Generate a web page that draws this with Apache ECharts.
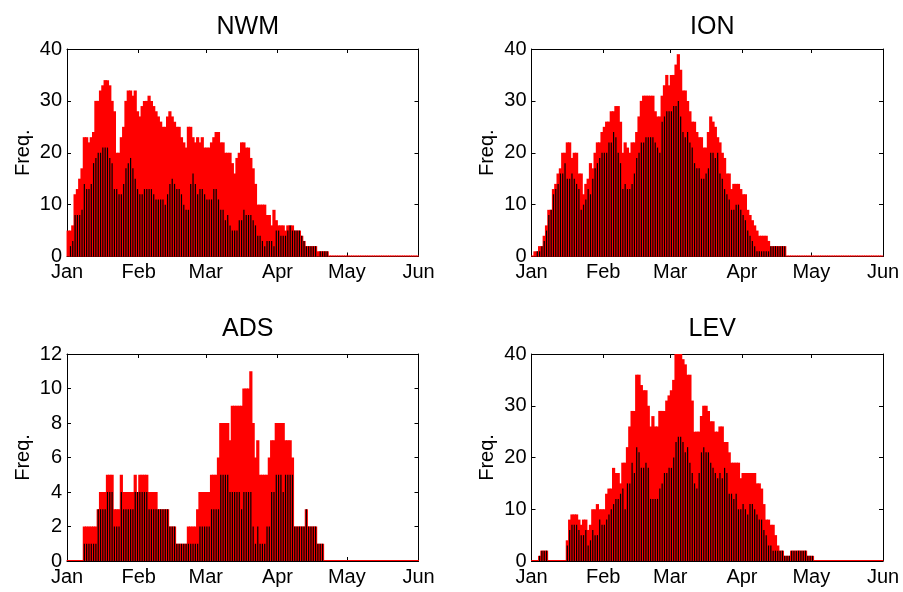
<!DOCTYPE html>
<html><head><meta charset="utf-8">
<script src="https://cdn.jsdelivr.net/npm/echarts@6/dist/echarts.min.js"></script>
<style>html,body{margin:0;padding:0;background:#fff}#c{width:903px;height:592px}</style>
</head><body><div id="c"></div>
<script>
// Day-of-year axis (Jan 1 .. Jun 1), month ticks
const monthTicks = [0, 31, 60, 91, 121, 152];
const monthLabels = ['Jan', 'Feb', 'Mar', 'Apr', 'May', 'Jun'];
const panelTitles = ['NWM', 'ION', 'ADS', 'LEV'];
const yMax = [40, 40, 12, 40];
const yStep = [10, 10, 2, 10];

function z(n) { return new Array(n).fill(0); }
function rep(v, n) { return new Array(n).fill(v); }

// NWM
const nwmRed = [5,5,6,12,13,15,17,23,23,22,
  23,24,30,30,32,33,34,34,33,30,
  28,20,20,23,25,30,32,32,31,32,
  28,27,29,30,30,31,30,29,28,27,
  26,25,25,27,28,27,26,25,25,23,
  22,21,25,25,23,22,23,22,23,21,
  21,21,22,23,24,24,22,22,20,20,
  20,18,16,19,20,22,22,21,21,19,
  17,14,10,10,10,10,8,8,6,9,
  7,6,6,6,5,6,6,6,5,5,
  5,4,3,2,2,2,2,2,1,1,
  1,1,1].concat(z(39));
const nwmBlack = [0,2,3,8,8,8,9,14,13,13,
  14,18,19,20,20,21,21,21,19,18,
  13,13,12,12,14,17,18,19,17,15,
  13,12,12,13,13,13,13,12,11,11,
  11,11,10,12,14,15,14,13,13,12,
  10,9,9,14,16,14,12,13,13,12,
  11,11,11,13,13,11,9,9,7,8,
  6,5,5,5,7,7,9,8,8,8,
  7,6,4,4,3,2,3,3,3,2,
  5,5,4,4,4,5,6,5,5,5,
  5,4,3,2,2,2,2,2,0,1,
  1,1,1].concat(z(39));

// ION
const ionRed = [0,1,1,2,2,4,6,9,9,13,
  14,16,17,20,20,22,22,19,20,20,
  16,16,12,14,15,18,17,20,22,22,
  24,25,26,26,28,28,29,29,26,20,
  22,21,20,22,22,24,27,30,31,31,
  31,31,31,28,27,27,31,33,35,33,
  35,35,37,39,36,32,32,30,28,26,
  26,24,23,23,21,21,24,27,26,25,
  23,22,20,19,16,16,13,14,14,14,
  13,12,12,9,8,7,6,5,4,4,
  4,4,3,2,2,2,2,2,2,2].concat(z(42));
const ionBlack = [0,0,1,1,2,3,5,8,9,12,
  13,14,16,16,18,15,15,16,15,14,
  13,9,10,11,13,12,15,17,18,19,
  20,20,20,22,22,24,23,20,18,13,
  14,13,13,14,16,19,20,22,22,23,
  23,23,23,22,21,20,26,27,28,28,
  28,29,29,30,27,24,23,24,22,21,
  18,17,17,15,15,16,17,20,20,19,
  20,16,15,13,12,11,9,9,10,10,
  9,8,7,5,4,3,2,1,1,1,
  1,1,1,2,2,2,2,2,2,2].concat(z(42));

// ADS
const adsRed = [].concat(z(7), rep(2,6), [3], rep(4,3), rep(5,3), rep(3,3), [5], rep(4,5), [5,4],
  rep(5,4), rep(4,4), rep(3,5), rep(2,3), rep(1,5), rep(2,4), [3], rep(4,5), rep(5,3), [6],
  rep(8,4), [7], [9,9,9,9,9], [10,10,10], [11], [8,6,7], rep(5,4), [6], [7,7], rep(8,4), rep(7,3), [6],
  rep(2,5), [3], rep(2,4), rep(1,3), z(41));
const adsBlack = [].concat(z(7), rep(1,6), rep(3,4), rep(4,3), rep(2,3), [4], rep(3,5), rep(4,6),
  rep(3,9), rep(2,3), rep(1,10), rep(2,5), rep(3,4), rep(5,4), rep(4,5), [3], rep(4,4), [2,1,2],
  rep(1,3), [2,2], [4,4], [5,5,5], [4], rep(5,4), rep(2,5), [3], rep(2,4), rep(1,3), z(41));

// LEV
const levRed = [0,0,0,1,2,2,2,0,0,0,
  0,0,0,0,0,4,8,9,9,9,
  8,7,8,8,6,7,10,10,11,10,
  10,10,13,14,14,18,17,17,15,19,
  19,22,26,29,29,36,36,34,33,33,
  30,26,28,26,26,29,29,29,31,32,
  33,35,40,40,40,39,38,36,36,31,
  25,25,25,28,30,30,29,27,27,25,
  25,26,26,23,23,21,19,19,19,19,
  16,17,17,17,17,17,17,15,15,14,
  11,8,8,7,7,5,3,2,2,1,
  1,1,2,2,2,2,2,2,2,1,
  1,1].concat(z(30));
const levBlack = [0,0,0,1,2,2,2,0,0,0,
  0,0,0,0,0,3,6,7,7,7,
  6,5,5,6,3,4,6,5,5,8,
  7,7,8,9,10,11,12,12,13,14,
  10,15,15,19,17,22,21,18,18,19,
  18,12,12,12,12,14,15,17,17,18,
  18,20,23,24,24,23,21,22,19,17,
  15,14,17,21,22,21,21,19,18,17,
  16,17,16,18,17,13,13,12,13,10,
  10,11,10,9,11,11,10,9,8,8,
  6,5,3,3,2,2,2,2,2,1,
  1,1,2,2,2,2,2,2,2,1,
  1,1].concat(z(30));

const redData = [nwmRed, ionRed, adsRed, levRed];
const blackData = [nwmBlack, ionBlack, adsBlack, levBlack];

const FONT = "'Liberation Sans', Arial, Helvetica, sans-serif";
const grids = [
  {left: 67, top: 49, width: 351.5, height: 207.5},
  {left: 531.5, top: 49, width: 351.5, height: 207.5},
  {left: 67, top: 354, width: 351.5, height: 207},
  {left: 531.5, top: 354, width: 351.5, height: 207}
];
const titleTops = [10, 10, 312, 312];

const toXY = arr => arr.map((v, i) => [i + 0.5, v]);
const axisLine = {show: true, onZero: false, lineStyle: {color: '#000', width: 1}};
const tickStyle = {show: true, inside: true, length: 4, lineStyle: {color: '#000', width: 1}};

const xAxis = [], yAxis = [], series = [], title = [];
grids.forEach((g, k) => {
  title.push({
    text: panelTitles[k], left: g.left + g.width / 2, top: titleTops[k], textAlign: 'center',
    textStyle: {fontFamily: FONT, fontSize: 25, fontWeight: 'normal', color: '#000'}
  });
  const xBase = {
    type: 'value', gridIndex: k, min: 0, max: 152, splitLine: {show: false},
    axisLine: axisLine,
    axisTick: Object.assign({}, tickStyle, {customValues: monthTicks})
  };
  xAxis.push(Object.assign({}, xBase, {
    position: 'bottom',
    axisLabel: {customValues: monthTicks, formatter: v => monthLabels[monthTicks.indexOf(v)] || '',
      fontFamily: FONT, fontSize: 20, color: '#000', margin: 6}
  }));
  xAxis.push(Object.assign({}, xBase, {position: 'top', axisLabel: {show: false}}));
  const yBase = {
    type: 'value', gridIndex: k, min: 0, max: yMax[k], interval: yStep[k],
    splitLine: {show: false}, axisLine: axisLine, axisTick: tickStyle
  };
  yAxis.push(Object.assign({}, yBase, {
    position: 'left', name: 'Freq.', nameLocation: 'middle', nameRotate: 90, nameGap: 34,
    nameTextStyle: {fontFamily: FONT, fontSize: 20, color: '#000'},
    axisLabel: {fontFamily: FONT, fontSize: 20, color: '#000', margin: 5}
  }));
  yAxis.push(Object.assign({}, yBase, {position: 'right', axisLabel: {show: false}}));
  series.push({
    type: 'bar', xAxisIndex: 2 * k, yAxisIndex: 2 * k, data: toXY(redData[k]),
    barWidth: 3.2, barMinHeight: 1, itemStyle: {color: '#ff0000'}, z: 2
  });
  series.push({
    type: 'bar', xAxisIndex: 2 * k + 1, yAxisIndex: 2 * k, data: toXY(blackData[k]),
    barWidth: 1.2, itemStyle: {color: '#000000'}, z: 3
  });
});

const chart = echarts.init(document.getElementById('c'), null, {renderer: 'canvas'});
chart.setOption({
  backgroundColor: '#fff', animation: false,
  title: title, grid: grids, xAxis: xAxis, yAxis: yAxis, series: series
});
</script></body></html>
